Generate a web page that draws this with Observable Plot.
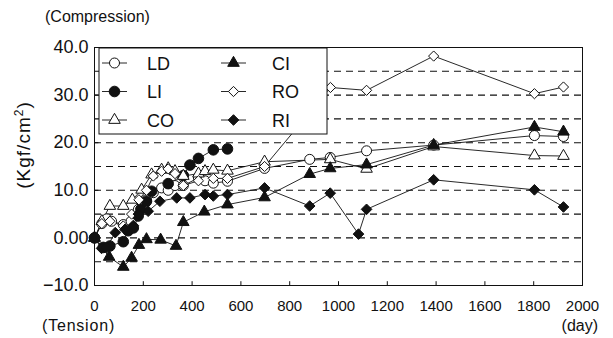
<!DOCTYPE html>
<html><head><meta charset="utf-8">
<script src="https://cdn.jsdelivr.net/npm/d3@7"></script>
<script src="https://cdn.jsdelivr.net/npm/@observablehq/plot@0.6"></script>
<style>body{margin:0;background:#fff} svg{font-family:"Liberation Sans",Arial,sans-serif}</style>
</head><body><div id="chart"></div><script>
// series data: [day, stress (kgf/cm2)]
const LD = [[0,0],[30,3],[50,4],[70,3.5],[118,2.8],[150,3.5],[180,6],[213,8],[241,9.5],[275,10.5],[302,10],[330,11],[364,11],[426,12.6],[453,12],[487,11.5],[545,11.9],[697,14.6],[882,16.5],[966,16.9],[1115,18.3],[1390,19.5],[1803,21.5],[1922,21.3]];
const LI = [[0,0],[36,-2],[63,-1.7],[118,-0.8],[138,1.5],[159,2.1],[179,4.6],[190,6],[213,7.7],[234,9.8],[302,11.4],[364,13.1],[391,15.3],[426,16.7],[487,18.5],[545,18.7]];
const CO = [[0,0],[30,3.5],[63,6.7],[118,6.7],[155,8],[193,10.1],[234,13.3],[275,14.3],[302,14.6],[330,14],[364,13],[426,13.5],[453,14],[487,14.3],[545,14.1],[697,16],[966,16.5],[1115,14.5],[1390,19.2],[1803,17.3],[1922,17.2]];
const CI = [[0,0],[60,-4],[118,-6.1],[152,-4.2],[182,-1.5],[213,-0.3],[271,-0.4],[334,-1.7],[364,3.3],[450,5.5],[545,7],[697,8.5],[882,13.4],[966,14.6],[1115,15.4],[1390,19.5],[1803,23.3],[1922,22.3]];
const RO = [[0,0],[30,3],[63,3.5],[118,2.5],[152,5],[182,8],[213,10],[241,13],[275,14],[302,14.5],[330,13.5],[364,11],[426,12],[487,12.5],[545,12.5],[697,15],[967,31.6],[1115,31],[1390,38.2],[1803,30.3],[1922,31.7]];
const RI = [[0,0],[29,-2.2],[50,-2],[85,1.1],[125,1.8],[159,2.6],[180,5],[220,5.6],[268,7.7],[337,8.4],[391,8.4],[453,9.1],[487,8.8],[545,9.1],[697,10.5],[882,6.7],[966,9.4],[1082,0.8],[1115,6],[1390,12.2],[1803,10.1],[1922,6.5]];

const seriesNames = ["LD","LI","CO","CI","RO","RI"];
const seriesData = {LD, LI, CO, CI, RO, RI};
const yTicks = [40,30,20,10,0,-10];
const yTickLabels = ["40.0","30.0","20.0","10.0","0.00","\u221210.0"];
const xTicks = [0,200,400,600,800,1000,1200,1400,1600,1800,2000];
const gridLines = [-5,0,5,10,15,20,25,30,35];

const styleOf = {
  LD:{symbol:"circle", fill:"white", r:5},
  LI:{symbol:"circle", fill:"#111", r:5.3},
  CO:{symbol:"triangle", fill:"white", r:4.3},
  CI:{symbol:"triangle", fill:"#111", r:4.3},
  RO:{symbol:"diamond2", fill:"white", r:4.6},
  RI:{symbol:"diamond2", fill:"#111", r:4.8}
};
// legend placement: [column, row]
const legendPos = {LD:[0,0], LI:[0,1], CO:[0,2], CI:[1,0], RO:[1,1], RI:[1,2]};

const rows = [];
seriesNames.forEach(n => seriesData[n].forEach(([d,v]) => rows.push({series:n, day:d, value:v})));

const W=613, H=338, mL=94, mR=31, mT=47, mB=53;
const ink = "#111";

const plot = Plot.plot({
  width:W, height:H, marginLeft:mL, marginRight:mR, marginTop:mT, marginBottom:mB,
  x:{domain:[0,2000]}, y:{domain:[-10,40]},
  style:{fontFamily:'"Liberation Sans",Arial,sans-serif', color:ink, background:"white"},
  marks:[
    Plot.ruleY(gridLines, {stroke:ink, strokeWidth:1.1, strokeDasharray:"7,5"}),
    Plot.ruleX(xTicks, {y1:-10, y2:-9.2, stroke:ink}),
    Plot.ruleY(yTicks, {x1:0, x2:18, stroke:ink}),
    Plot.axisY(yTicks, {tickSize:0, tickPadding:6, fontSize:18, tickFormat:d => yTickLabels[yTicks.indexOf(d)], label:null}),
    Plot.axisX(xTicks, {tickSize:0, tickPadding:15, fontSize:15, tickFormat:d => String(d), label:null}),
    Plot.line(rows, {x:"day", y:"value", z:"series", stroke:ink, strokeWidth:0.9}),
    ...seriesNames.map(n => Plot.dot(seriesData[n], {x:d=>d[0], y:d=>d[1], symbol:styleOf[n].symbol, r:styleOf[n].r, fill:styleOf[n].fill, stroke:ink, strokeWidth:1})),
    Plot.frame({stroke:ink, strokeWidth:1})
  ]
});
document.getElementById("chart").appendChild(plot);

const svg = d3.select(plot);
// axis annotations
svg.append("text").attr("x",45).attr("y",22).attr("text-anchor","start").attr("font-size",16).attr("fill",ink).text("(Compression)");
svg.append("text").attr("x",42).attr("y",331).attr("text-anchor","start").attr("font-size",16).attr("letter-spacing",0.8).attr("fill",ink).text("(Tension)");
svg.append("text").attr("x",598).attr("y",331).attr("text-anchor","end").attr("font-size",16).attr("fill",ink).text("(day)");
const yl = svg.append("text").attr("transform","translate(30,145) rotate(-90)").attr("text-anchor","middle").attr("font-size",19).attr("letter-spacing",1).attr("fill",ink);
yl.append("tspan").text("(Kgf/cm");
yl.append("tspan").attr("font-size",12).attr("dy",-7).text("2");
yl.append("tspan").attr("dy",7).text(")");

// legend
const lg = svg.append("g");
lg.append("rect").attr("x",99).attr("y",48).attr("width",228).attr("height",86).attr("fill","white").attr("stroke",ink);
const symMap = {circle:d3.symbolCircle, triangle:d3.symbolTriangle, diamond2:d3.symbolDiamond2};
seriesNames.forEach(n => {
  const [col,row] = legendPos[n];
  const x0 = col === 0 ? 102 : 221;
  const y0 = 63 + row*28.5;
  lg.append("line").attr("x1",x0).attr("x2",x0+25).attr("y1",y0).attr("y2",y0).attr("stroke",ink).attr("stroke-width",0.9);
  const s = styleOf[n];
  lg.append("path").attr("transform",`translate(${x0+12.5},${y0})`)
    .attr("d", d3.symbol(symMap[s.symbol], Math.PI*s.r*s.r)())
    .attr("fill", s.fill).attr("stroke", ink);
  lg.append("text").attr("x", col===0 ? 147 : 272).attr("y", y0+6.5).attr("text-anchor","start").attr("font-size",18).attr("fill",ink).text(n);
});
</script></body></html>
